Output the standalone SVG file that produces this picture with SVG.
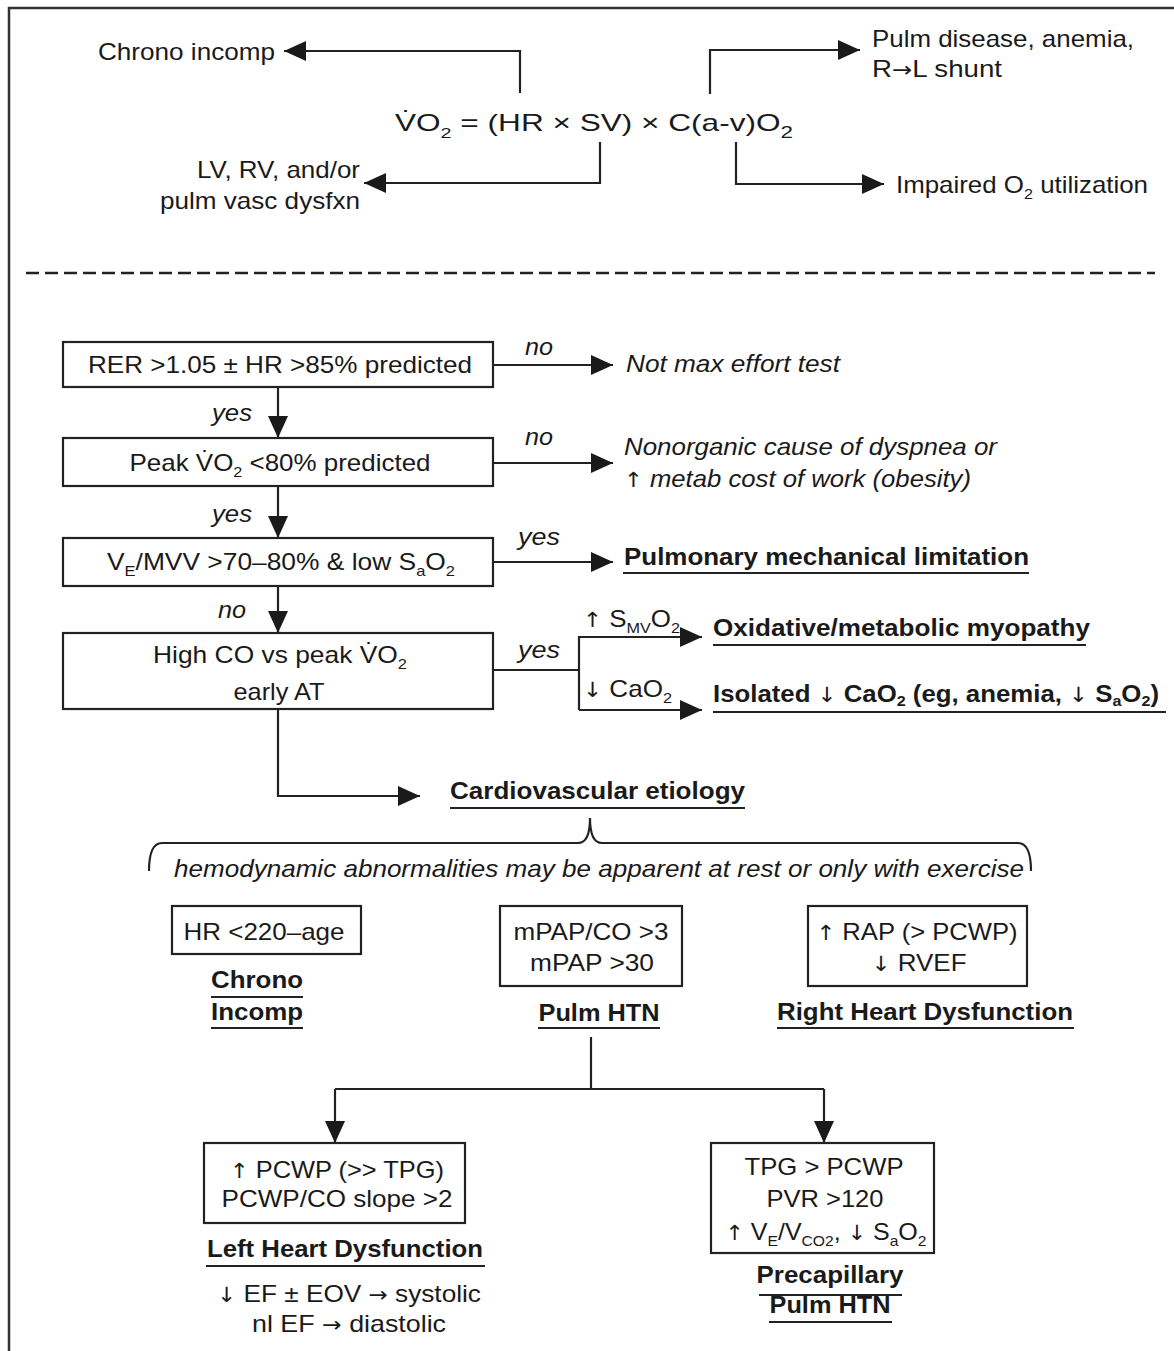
<svg xmlns="http://www.w3.org/2000/svg" width="1174" height="1351" viewBox="0 0 1174 1351">
<style>
text{font-family:"Liberation Sans",Arial,sans-serif;fill:#1a1a1a;font-size:24px}
.it{font-style:italic}
.b{font-weight:bold}
.sb{font-size:15px}
.ar{font-family:"DejaVu Sans",sans-serif;font-weight:normal;font-style:normal;font-size:21px}
.box{fill:#fff;stroke:#222;stroke-width:2.2}
.ln{fill:none;stroke:#222;stroke-width:2.2}
.ul{stroke:#222;stroke-width:2.2}
.c{text-anchor:middle}
.e{text-anchor:end}
</style>
<defs>
<marker id="ah" markerUnits="userSpaceOnUse" markerWidth="24" markerHeight="22" refX="22" refY="10" orient="auto">
<path d="M0,0 L22,10 L0,20 z" fill="#1a1a1a"/>
</marker>
</defs>
<rect width="1174" height="1351" fill="#fff"/>
<path d="M9,1351 V8 H1174" fill="none" stroke="#333" stroke-width="2.5"/>
<line x1="26" y1="273" x2="1155" y2="273" stroke="#222" stroke-width="2.5" stroke-dasharray="13 6"/>

<g id="connectors">
<path class="ln" d="M520,93 V51 H284" marker-end="url(#ah)"/>
<path class="ln" d="M710,94 V50 H860" marker-end="url(#ah)"/>
<path class="ln" d="M600,142 V183 H364" marker-end="url(#ah)"/>
<path class="ln" d="M736,142 V184 H884" marker-end="url(#ah)"/>
<path class="ln" d="M278,387 V438" marker-end="url(#ah)"/>
<path class="ln" d="M278,486 V538" marker-end="url(#ah)"/>
<path class="ln" d="M278,586 V633" marker-end="url(#ah)"/>
<path class="ln" d="M493,365 H613" marker-end="url(#ah)"/>
<path class="ln" d="M493,463 H613" marker-end="url(#ah)"/>
<path class="ln" d="M493,562 H613" marker-end="url(#ah)"/>
<path class="ln" d="M493,670 H579"/>
<path class="ln" d="M579,710 V637 H702" marker-end="url(#ah)"/>
<path class="ln" d="M579,710 H702" marker-end="url(#ah)"/>
<path class="ln" d="M278,709 V796 H420" marker-end="url(#ah)"/>
<path class="ln" d="M149,871 Q149,843 162,843 H578 Q590,843 590,818 Q590,843 602,843 H1018 Q1031,843 1031,871"/>
<path class="ln" d="M591,1037 V1089"/>
<path class="ln" d="M335,1089 H824"/>
<path class="ln" d="M335,1089 V1143" marker-end="url(#ah)"/>
<path class="ln" d="M824,1089 V1143" marker-end="url(#ah)"/>
</g>

<g id="formula">
<text x="395" y="131" font-size="28" textLength="398" lengthAdjust="spacingAndGlyphs">V̇O<tspan class="sb" font-size="17" dy="7">2</tspan><tspan dy="-7"> = (HR × SV) × C(a-v)O</tspan><tspan font-size="17" dy="7">2</tspan></text>
</g>
<g id="chrono-top"><text x="98" y="60" textLength="177" lengthAdjust="spacingAndGlyphs">Chrono incomp</text></g>
<g id="pulm-disease">
<text x="872" y="47" textLength="262" lengthAdjust="spacingAndGlyphs">Pulm disease, anemia,</text>
<text x="872" y="77" textLength="130" lengthAdjust="spacingAndGlyphs">R<tspan class="ar">→</tspan>L shunt</text>
</g>
<g id="lv-rv">
<text class="e" x="360" y="178" textLength="163" lengthAdjust="spacingAndGlyphs">LV, RV, and/or</text>
<text class="e" x="360" y="209" textLength="200" lengthAdjust="spacingAndGlyphs">pulm vasc dysfxn</text>
</g>
<g id="impaired"><text x="896" y="193" textLength="252" lengthAdjust="spacingAndGlyphs">Impaired O<tspan class="sb" dy="6">2</tspan><tspan dy="-6"> utilization</tspan></text></g>

<g id="rer">
<rect class="box" x="63" y="342" width="430" height="45"/>
<text class="c" x="280" y="373" textLength="384" lengthAdjust="spacingAndGlyphs">RER &gt;1.05 ± HR &gt;85% predicted</text>
</g>
<g id="peak">
<rect class="box" x="63" y="438" width="430" height="48"/>
<text class="c" x="280" y="471" textLength="301" lengthAdjust="spacingAndGlyphs">Peak V̇O<tspan class="sb" dy="6">2</tspan><tspan dy="-6"> &lt;80% predicted</tspan></text>
</g>
<g id="ve-mvv">
<rect class="box" x="63" y="538" width="430" height="48"/>
<text class="c" x="281" y="570" textLength="348" lengthAdjust="spacingAndGlyphs">V<tspan class="sb" dy="6">E</tspan><tspan dy="-6">/MVV &gt;70–80% &amp; low S</tspan><tspan class="sb" dy="6">a</tspan><tspan dy="-6">O</tspan><tspan class="sb" dy="6">2</tspan></text>
</g>
<g id="highco">
<rect class="box" x="63" y="633" width="430" height="76"/>
<text class="c" x="280" y="663" textLength="254" lengthAdjust="spacingAndGlyphs">High CO vs peak  V̇O<tspan class="sb" dy="6">2</tspan></text>
<text class="c" x="279" y="700" textLength="91" lengthAdjust="spacingAndGlyphs">early AT</text>
</g>

<g id="labels">
<text class="it" x="212" y="421" textLength="40" lengthAdjust="spacingAndGlyphs">yes</text>
<text class="it" x="212" y="522" textLength="40" lengthAdjust="spacingAndGlyphs">yes</text>
<text class="it" x="218" y="618" textLength="28" lengthAdjust="spacingAndGlyphs">no</text>
<text class="it" x="525" y="355" textLength="28" lengthAdjust="spacingAndGlyphs">no</text>
<text class="it" x="525" y="445" textLength="28" lengthAdjust="spacingAndGlyphs">no</text>
<text class="it" x="518" y="545" textLength="42" lengthAdjust="spacingAndGlyphs">yes</text>
<text class="it" x="518" y="658" textLength="42" lengthAdjust="spacingAndGlyphs">yes</text>
<text x="583" y="627" textLength="97" lengthAdjust="spacingAndGlyphs"><tspan class="ar">↑</tspan> S<tspan class="sb" dy="6">MV</tspan><tspan dy="-6">O</tspan><tspan class="sb" dy="6">2</tspan></text>
<text x="583" y="697" textLength="89" lengthAdjust="spacingAndGlyphs"><tspan class="ar">↓</tspan> CaO<tspan class="sb" dy="6">2</tspan></text>
</g>

<g id="not-max"><text class="it" x="626" y="372" textLength="214" lengthAdjust="spacingAndGlyphs">Not max effort test</text></g>
<g id="nonorganic">
<text class="it" x="624" y="455" textLength="373" lengthAdjust="spacingAndGlyphs">Nonorganic cause of dyspnea or</text>
<text class="it" x="624" y="487" textLength="347" lengthAdjust="spacingAndGlyphs"><tspan class="ar">↑</tspan> metab cost of work (obesity)</text>
</g>
<g id="pulm-mech">
<text class="b" x="624" y="565" textLength="405" lengthAdjust="spacingAndGlyphs">Pulmonary mechanical limitation</text>
<line class="ul" x1="623" y1="573" x2="1029" y2="573"/>
</g>
<g id="oxidative">
<text class="b" x="713" y="636" textLength="377" lengthAdjust="spacingAndGlyphs">Oxidative/metabolic myopathy</text>
<line class="ul" x1="713" y1="645" x2="1086" y2="645"/>
</g>
<g id="isolated">
<text class="b" x="713" y="702" textLength="446" lengthAdjust="spacingAndGlyphs">Isolated <tspan class="ar">↓</tspan> CaO<tspan class="sb" dy="4">2</tspan><tspan dy="-4"> (eg, anemia, </tspan><tspan class="ar">↓</tspan> S<tspan class="sb" dy="4">a</tspan><tspan dy="-4">O</tspan><tspan class="sb" dy="4">2</tspan><tspan dy="-4">)</tspan></text>
<line class="ul" x1="713" y1="712" x2="1166" y2="712"/>
</g>
<g id="cardio">
<text class="b" x="450" y="799" textLength="295" lengthAdjust="spacingAndGlyphs">Cardiovascular etiology</text>
<line class="ul" x1="450" y1="808" x2="745" y2="808"/>
</g>
<g id="hemo"><text class="it" x="174" y="877" font-size="23" textLength="850" lengthAdjust="spacingAndGlyphs">hemodynamic abnormalities may be apparent at rest or only with exercise</text></g>

<g id="chrono">
<rect class="box" x="172" y="906" width="189" height="48"/>
<text class="c" x="264" y="940" textLength="161" lengthAdjust="spacingAndGlyphs">HR &lt;220–age</text>
<text class="b c" x="257" y="988" textLength="92" lengthAdjust="spacingAndGlyphs">Chrono</text>
<line class="ul" x1="211" y1="997" x2="303" y2="997"/>
<text class="b c" x="257" y="1020" textLength="92" lengthAdjust="spacingAndGlyphs">Incomp</text>
<line class="ul" x1="211" y1="1028" x2="303" y2="1028"/>
</g>
<g id="pulm-htn">
<rect class="box" x="500" y="906" width="182" height="80"/>
<text class="c" x="591" y="940" textLength="155" lengthAdjust="spacingAndGlyphs">mPAP/CO &gt;3</text>
<text class="c" x="592" y="971" textLength="124" lengthAdjust="spacingAndGlyphs">mPAP &gt;30</text>
<text class="b c" x="599" y="1021" textLength="121" lengthAdjust="spacingAndGlyphs">Pulm HTN</text>
<line class="ul" x1="538" y1="1028" x2="660" y2="1028"/>
</g>
<g id="right-heart">
<rect class="box" x="808" y="906" width="219" height="80"/>
<text class="c" x="917" y="940" textLength="201" lengthAdjust="spacingAndGlyphs"><tspan class="ar">↑</tspan> RAP (&gt; PCWP)</text>
<text class="c" x="919" y="971" textLength="95" lengthAdjust="spacingAndGlyphs"><tspan class="ar">↓</tspan> RVEF</text>
<text class="b c" x="925" y="1020" textLength="296" lengthAdjust="spacingAndGlyphs">Right Heart Dysfunction</text>
<line class="ul" x1="777" y1="1028" x2="1074" y2="1028"/>
</g>
<g id="left-heart">
<rect class="box" x="204" y="1143" width="261" height="80"/>
<text class="c" x="337" y="1178" textLength="214" lengthAdjust="spacingAndGlyphs"><tspan class="ar">↑</tspan> PCWP (&gt;&gt; TPG)</text>
<text class="c" x="337" y="1207" textLength="231" lengthAdjust="spacingAndGlyphs">PCWP/CO slope &gt;2</text>
<text class="b c" x="345" y="1257" textLength="276" lengthAdjust="spacingAndGlyphs">Left Heart Dysfunction</text>
<line class="ul" x1="206" y1="1266" x2="485" y2="1266"/>
<text class="c" x="349" y="1302" textLength="264" lengthAdjust="spacingAndGlyphs"><tspan class="ar">↓</tspan> EF ± EOV <tspan class="ar">→</tspan> systolic</text>
<text class="c" x="349" y="1332" textLength="194" lengthAdjust="spacingAndGlyphs">nl EF <tspan class="ar">→</tspan> diastolic</text>
</g>
<g id="precap">
<rect class="box" x="711" y="1143" width="223" height="110"/>
<text class="c" x="824" y="1175" textLength="159" lengthAdjust="spacingAndGlyphs">TPG &gt; PCWP</text>
<text class="c" x="825" y="1207" textLength="117" lengthAdjust="spacingAndGlyphs">PVR &gt;120</text>
<text class="c" x="826" y="1240" textLength="201" lengthAdjust="spacingAndGlyphs"><tspan class="ar">↑</tspan> V<tspan class="sb" dy="6">E</tspan><tspan dy="-6">/V</tspan><tspan class="sb" dy="6">CO2</tspan><tspan dy="-6">, </tspan><tspan class="ar">↓</tspan> S<tspan class="sb" dy="6">a</tspan><tspan dy="-6">O</tspan><tspan class="sb" dy="6">2</tspan></text>
<text class="b c" x="830" y="1283" textLength="147" lengthAdjust="spacingAndGlyphs">Precapillary</text>
<line class="ul" x1="759" y1="1295" x2="902" y2="1295"/>
<text class="b c" x="830" y="1313" textLength="121" lengthAdjust="spacingAndGlyphs">Pulm HTN</text>
<line class="ul" x1="769" y1="1322" x2="892" y2="1322"/>
</g>
</svg>
